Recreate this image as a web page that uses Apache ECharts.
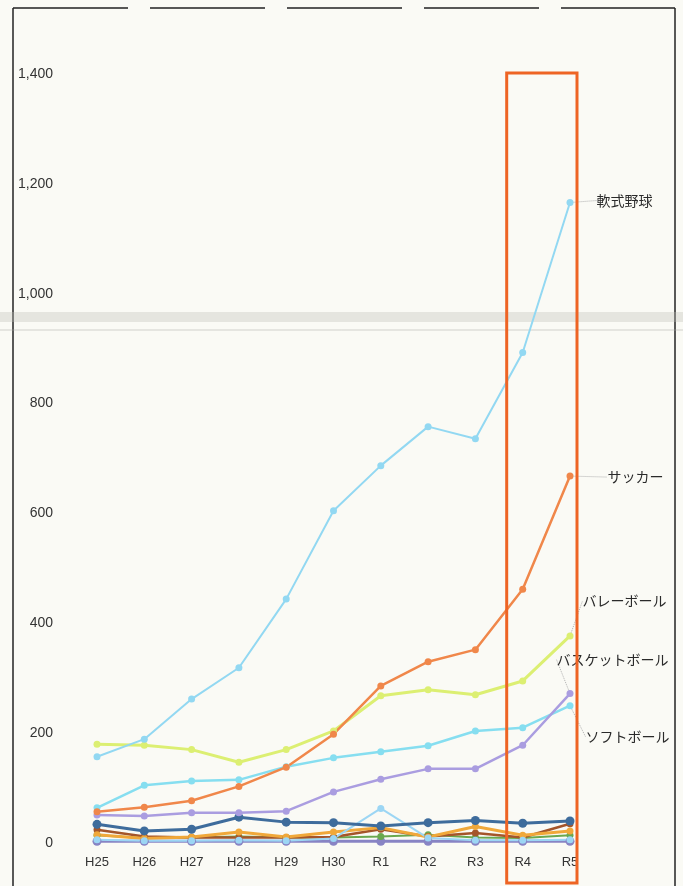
<!DOCTYPE html>
<html><head><meta charset="utf-8">
<script src="https://cdn.jsdelivr.net/npm/echarts@6/dist/echarts.min.js"></script>
<style>html,body{margin:0;padding:0;background:#fafaf5;}#c{width:683px;height:886px;}</style>
</head><body><div id="c"></div>
<script>
var categories = ['H25','H26','H27','H28','H29','H30','R1','R2','R3','R4','R5'];
var yTicks = [0,200,400,600,800,1000,1200,1400];
var nanshikiYakyu = [157,189,262,319,444,605,687,758,736,893,1166];
var soccer        = [57,65,77,103,138,198,286,330,352,462,668];
var volleyball    = [180,178,170,147,170,204,268,279,270,295,377];
var basketball    = [51,49,55,55,58,93,116,135,135,178,272];
var softball      = [64,105,113,115,139,155,166,177,204,210,250];
var series6       = [34,22,25,47,38,37,31,37,41,36,40];
var series7       = [6,4,4,5,4,8,63,9,5,5,6];
var series8       = [15,8,11,20,11,20,28,11,30,14,22];
var series9       = [24,12,10,10,10,11,25,12,18,10,35];
var series10      = [14,9,10,12,10,10,12,15,10,9,14];
var series11      = [3,3,3,3,3,3,3,3,3,3,3];

var chart = echarts.init(document.getElementById('c'));
function mk(name, data, color, width, opts){
  var s = {
    name: name, type: 'line', data: data, symbol: 'circle', symbolSize: 7,
    lineStyle: {color: color, width: width}, itemStyle: {color: color},
    emphasis: {disabled: true}, z: 2
  };
  if (opts) for (var k in opts) s[k] = opts[k];
  return s;
}
function labelled(name, data, color, width, text, dx, dy){
  var last = data.length - 1;
  var d = data.map(function(v, i){
    if (i !== last) return v;
    return {value: v,
      label: {show: true, position: 'right', distance: 6, formatter: text,
        fontFamily: 'Noto Sans CJK JP', fontSize: 14, color: '#2a2a2a'},
      labelLine: {show: true, lineStyle: {color: '#b0b0b0', width: 1, type: 'dotted'}}};
  });
  return mk(name, d, color, width, {
    label: {show: false},
    labelLayout: function(p){ return p.dataIndex === last ? {dx: dx, dy: dy} : {}; }
  });
}
var option = {
  backgroundColor: '#fafaf5',
  animation: false,
  grid: {left: 97, right: 113, top: 74, bottom: 43},
  xAxis: {type: 'category', data: categories, boundaryGap: false,
    axisLine: {show: false}, axisTick: {show: false},
    axisLabel: {margin: 13, color: '#333', fontSize: 13, fontFamily: 'Liberation Sans'}},
  yAxis: {type: 'value', min: yTicks[0], max: yTicks[yTicks.length-1], interval: 200,
    splitLine: {show: false}, axisLine: {show: false}, axisTick: {show: false},
    axisLabel: {margin: 44, color: '#333', fontSize: 14, fontFamily: 'Liberation Sans',
      formatter: function(v){return v.toLocaleString('en-US');}}},
  series: [
    mk('系列11', series11, '#8884c4', 3, {symbolSize: 9}),
    mk('系列10', series10, '#6aa84f', 2),
    mk('系列9', series9, '#a4552a', 2.5),
    mk('系列8', series8, '#f0a83a', 3),
    mk('系列7', series7, '#9cd6f4', 2),
    mk('系列6', series6, '#3e6c9c', 3, {symbolSize: 9}),
    labelled('ソフトボール', softball, '#86def0', 2.5, 'ソフトボール', 6, 31),
    labelled('バスケットボール', basketball, '#aa9de0', 2.5, 'バスケットボール', -23, -34),
    labelled('バレーボール', volleyball, '#dcef72', 3, 'バレーボール', 3, -35),
    labelled('サッカー', soccer, '#f0874a', 2.5, 'サッカー', 28, 1),
    labelled('軟式野球', nanshikiYakyu, '#92d8f2', 2, '軟式野球', 17, -2)
  ]
};
chart.setOption(option);

var pR4 = chart.convertToPixel({gridIndex: 0}, ['R4', 1400]);
var pR5 = chart.convertToPixel({gridIndex: 0}, ['R5', 0]);
chart.setOption({graphic: [
  {type: 'rect', shape: {x: 0, y: 312, width: 683, height: 10}, style: {fill: 'rgba(190,190,182,0.35)'}, silent: true, z: 1},
  {type: 'line', shape: {x1: 0, y1: 330, x2: 683, y2: 330}, style: {stroke: 'rgba(170,170,165,0.5)', lineWidth: 1}, silent: true, z: 1},
  {type: 'line', shape: {x1: 13, y1: 8, x2: 13, y2: 886}, style: {stroke: '#222', lineWidth: 1.5}, silent: true},
  {type: 'line', shape: {x1: 675, y1: 8, x2: 675, y2: 886}, style: {stroke: '#222', lineWidth: 1.5}, silent: true},
  {type: 'line', shape: {x1: 13, y1: 8, x2: 675, y2: 8}, style: {stroke: '#222', lineWidth: 1.5, lineDash: [115, 22]}, silent: true},
  {type: 'rect', shape: {x: pR4[0] - 16, y: pR4[1] - 1, width: (pR5[0] + 7) - (pR4[0] - 16), height: 883 - (pR4[1] - 1)},
    style: {fill: 'none', stroke: '#ee6424', lineWidth: 3}, silent: true, z: 10}
]});
</script>
</body></html>
